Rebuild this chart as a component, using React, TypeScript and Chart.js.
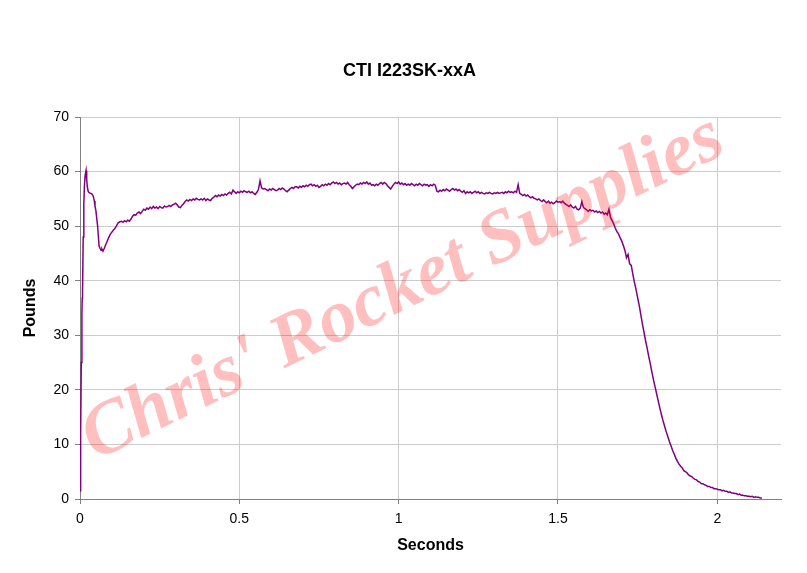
import React, { useEffect, useRef } from 'react';
import { Chart, registerables } from 'chart.js';

Chart.register(...registerables);

const CHART_TITLE = 'CTI I223SK-xxA';
const X_TITLE = 'Seconds';
const Y_TITLE = 'Pounds';
const WATERMARK = "Chris' Rocket Supplies";

const X_TICKS = [0, 0.5, 1, 1.5, 2];
const Y_TICKS = [0, 10, 20, 30, 40, 50, 60, 70];

// Ignition spike and early dip (seconds, pounds)
const IGNITION_TIMES = [
  0, 0.002, 0.004, 0.006, 0.007, 0.008, 0.010, 0.012, 0.014, 0.016,
  0.019, 0.021, 0.023, 0.026, 0.030, 0.034, 0.037, 0.040, 0.042, 0.045,
  0.047, 0.050, 0.052, 0.055, 0.057, 0.060, 0.063, 0.066, 0.069, 0.072,
  0.076, 0.080, 0.085, 0.090, 0.095, 0.100, 0.105, 0.110, 0.115, 0.120, 0.125,
];
const IGNITION_THRUST = [
  1.5, 12, 25, 34, 36.8, 38, 48, 54, 57.5, 59.2,
  60.2, 58.6, 57.2, 56.3, 56.1, 56.0, 55.9, 55.7, 55.4, 54.6,
  53.7, 52.8, 51.7, 50.2, 48.7, 46.3, 45.9, 45.6, 45.8, 45.4,
  45.9, 46.5, 47.2, 47.9, 48.5, 48.9, 49.3, 49.6, 50.1, 50.6, 50.8,
];

// Main burn and tail-off, sampled every 5 ms from 0.130 s
const BURN_START = 0.13;
const BURN_STEP = 0.005;
const BURN_THRUST = [
  50.9, 50.7, 51.0, 50.8, 51.1, 50.9, 51.3, 51.8, 52.1, 52.0,
  52.4, 52.6, 52.3, 52.7, 53.1, 52.9, 53.3, 53.1, 53.5, 53.2,
  53.6, 53.3, 53.5, 53.2, 53.6, 53.4, 53.3, 53.7, 53.5, 53.6,
  53.8, 53.6, 53.9, 54.0, 54.2, 53.9, 53.5, 53.4, 53.8, 54.1,
  54.5, 54.8, 54.6, 54.9, 54.7, 55.0, 54.8, 55.1, 54.9, 54.8,
  55.0, 54.8, 55.1, 54.7, 55.0, 54.8, 54.7, 55.1, 55.3, 55.6,
  55.4, 55.7, 55.5, 55.8, 55.6, 55.9, 55.7, 56.0, 56.2, 55.9,
  56.6, 56.3, 56.0, 56.3, 56.1, 56.4, 56.2, 56.5, 56.3, 56.2,
  56.4, 56.1, 56.3, 56.0, 55.8, 56.2, 56.7, 58.3, 57.0, 56.8,
  56.9, 56.7, 56.5, 56.8, 56.6, 56.9, 56.7, 56.5, 56.6, 56.9,
  56.7, 57.0, 56.8, 56.5, 56.3, 56.6, 56.9, 57.1, 56.9, 57.2,
  57.2, 57.0, 57.3, 57.1, 57.4, 57.2, 57.5, 57.3, 57.6, 57.7,
  57.4, 57.6, 57.3, 57.5, 57.1, 57.3, 57.6, 57.4, 57.7, 57.5,
  57.8, 57.6, 57.9, 58.1, 57.8, 58.0, 57.7, 57.9, 57.6, 57.8,
  57.9, 57.7, 58.0, 57.6, 57.3, 56.9, 57.2, 57.5, 57.7, 57.6,
  57.9, 57.7, 58.0, 57.8, 58.1, 57.7, 57.9, 57.5, 57.6, 57.4,
  57.7, 57.5, 57.8, 58.0, 57.7, 58.0, 57.8, 57.4, 57.1, 56.8,
  57.3, 57.7, 58.0, 57.8, 58.1, 57.7, 57.9, 57.6, 57.8, 57.5,
  57.7, 57.5, 57.8, 57.6, 57.4, 57.7, 57.5, 57.8, 57.6, 57.4,
  57.7, 57.5, 57.6, 57.3, 57.6, 57.4, 57.7, 57.5, 56.4, 56.3,
  56.6, 56.4, 56.7, 56.5, 56.8, 56.6, 56.4, 56.7, 56.9, 56.6,
  56.8, 56.5, 56.7, 56.4, 56.2, 56.5, 56.0, 56.3, 56.1, 56.3,
  56.0, 56.2, 56.4, 56.1, 56.3, 56.0, 56.2, 56.0, 55.9, 56.1,
  56.0, 56.2, 56.0, 55.9, 56.1, 56.0, 56.2, 56.0, 56.1, 56.2,
  56.0, 56.3, 56.1, 56.4, 56.2, 56.3, 56.1, 56.4, 56.2, 57.6,
  56.0, 55.8, 55.6, 55.8, 55.5, 55.7, 55.4, 55.2, 55.4, 55.1,
  55.0, 54.8, 55.0, 54.7, 54.5, 54.8, 54.5, 54.3, 54.6, 54.2,
  54.4, 54.1, 54.3, 54.6, 54.4, 54.5, 54.3, 54.6, 54.2, 54.0,
  53.8, 53.6, 53.9, 53.5, 53.3, 53.6, 53.1, 53.0, 53.3, 54.5,
  53.4, 53.2, 53.0, 52.7, 53.0, 52.8, 52.9, 52.6, 52.8, 52.5,
  52.7, 52.4, 52.6, 52.2, 52.4, 52.1, 53.1, 51.6, 51.0, 50.4,
  49.6, 49.0, 48.6, 47.9, 47.3, 46.5, 45.6, 44.2, 44.8, 43.1,
  42.8, 41.2, 39.7, 38.4, 36.9, 35.5, 33.8, 32.1, 30.6, 29.0,
  27.6, 26.1, 24.7, 23.2, 21.8, 20.5, 19.2, 17.9, 16.6, 15.4,
  14.3, 13.3, 12.3, 11.4, 10.5, 9.7, 8.9, 8.2, 7.5, 6.9,
  6.4, 6.0, 5.7, 5.2, 5.0, 4.8, 4.4, 4.2, 4.1, 3.8,
  3.6, 3.5, 3.2, 3.1, 2.8, 2.8, 2.6, 2.5, 2.3, 2.3,
  2.1, 2.1, 1.9, 1.9, 1.8, 1.7, 1.7, 1.5, 1.6, 1.4,
  1.4, 1.2, 1.3, 1.1, 1.1, 1.0, 1.0, 0.8, 0.9, 0.7,
  0.7, 0.6, 0.6, 0.5, 0.5, 0.4, 0.5, 0.3, 0.4, 0.3,
  0.3, 0.2, 0.2,
];

const SANS = '"Liberation Sans", Arial, sans-serif';

const titlePlugin = {
  id: 'customTitle',
  afterDraw(chart: any) {
    const { ctx } = chart;
    ctx.save();
    ctx.font = `bold 18px ${SANS}`;
    ctx.fillStyle = '#000';
    ctx.textAlign = 'center';
    ctx.textBaseline = 'middle';
    ctx.fillText(CHART_TITLE, chart.width / 2 + 6, 71);
    ctx.restore();
  },
};

const watermarkPlugin = {
  id: 'watermark',
  afterDatasetsDraw(chart: any) {
    const { ctx, chartArea } = chart;
    ctx.save();
    ctx.translate(chartArea.left + chartArea.width * 0.461, chartArea.top + chartArea.height * 0.45);
    ctx.rotate((-26 * Math.PI) / 180);
    ctx.font = 'italic bold 75px "Liberation Serif", "Times New Roman", serif';
    ctx.fillStyle = 'rgba(255, 0, 0, 0.25)';
    ctx.textAlign = 'center';
    ctx.textBaseline = 'middle';
    ctx.fillText(WATERMARK, 0, 0);
    ctx.restore();
  },
};

export default function App() {
  const canvasRef = useRef<HTMLCanvasElement | null>(null);

  useEffect(() => {
    const canvas = canvasRef.current;
    if (!canvas) return;

    const points: { x: number; y: number }[] = [];
    IGNITION_TIMES.forEach((t, i) => points.push({ x: t, y: IGNITION_THRUST[i] }));
    BURN_THRUST.forEach((v, i) => points.push({ x: +(BURN_START + i * BURN_STEP).toFixed(3), y: v }));

    const chart = new Chart(canvas, {
      type: 'line',
      data: {
        datasets: [
          {
            data: points,
            borderColor: '#800080',
            borderWidth: 1.5,
            pointRadius: 0,
            tension: 0,
            fill: false,
          },
        ],
      },
      options: {
        animation: false,
        responsive: false,
        devicePixelRatio: 1,
        layout: { padding: { left: 0, right: 26, top: 117, bottom: 0 } },
        plugins: {
          legend: { display: false },
          title: { display: false },
          tooltip: { enabled: false },
        },
        scales: {
          x: {
            type: 'linear',
            min: 0,
            max: 2.2,
            afterBuildTicks: (s: any) => {
              s.ticks = X_TICKS.map((v) => ({ value: v }));
            },
            afterFit: (s: any) => {
              s.height = 74;
            },
            ticks: {
              color: '#000',
              font: { family: SANS, size: 14 },
              padding: 7,
              maxRotation: 0,
              autoSkip: false,
              callback: (v: any) => String(v),
            },
            grid: { color: '#cccccc', tickColor: '#808080', tickLength: 5, lineWidth: 1 },
            border: { color: '#808080', width: 1 },
            title: {
              display: true,
              text: X_TITLE,
              color: '#000',
              font: { family: SANS, size: 16, weight: 'bold' },
              padding: { top: 0, bottom: 18 },
            },
          },
          y: {
            type: 'linear',
            min: 0,
            max: 70,
            afterBuildTicks: (s: any) => {
              s.ticks = Y_TICKS.map((v) => ({ value: v }));
            },
            afterFit: (s: any) => {
              s.width = 80;
            },
            ticks: {
              color: '#000',
              font: { family: SANS, size: 14 },
              padding: 6,
              callback: (v: any) => String(v),
            },
            grid: { color: '#cccccc', tickColor: '#808080', tickLength: 5, lineWidth: 1 },
            border: { color: '#808080', width: 1 },
            title: {
              display: true,
              text: Y_TITLE,
              color: '#000',
              font: { family: SANS, size: 16, weight: 'bold' },
              padding: { top: 21, bottom: 0 },
            },
          },
        },
      },
      plugins: [watermarkPlugin, titlePlugin],
    });

    return () => chart.destroy();
  }, []);

  return (
    <div style={{ position: 'absolute', left: 0, top: 0, width: 807, height: 573, background: '#fff' }}>
      <canvas ref={canvasRef} width={807} height={573} style={{ display: 'block' }} />
    </div>
  );
}
